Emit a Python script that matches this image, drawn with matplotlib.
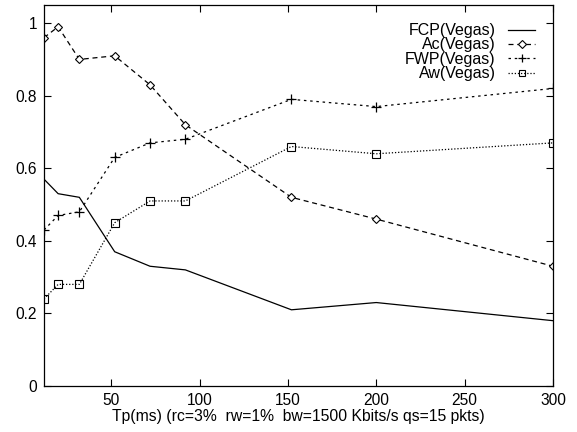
import matplotlib
matplotlib.use("Agg")
import matplotlib.pyplot as plt

plt.rcParams['font.family'] = ['Liberation Sans', 'DejaVu Sans']

# Tp values (ms)
tp = [12, 20, 32, 52, 72, 92, 152, 200, 300]

fcp = [0.57, 0.53, 0.52, 0.37, 0.33, 0.32, 0.21, 0.23, 0.18]
ac = [0.96, 0.99, 0.90, 0.91, 0.83, 0.72, 0.52, 0.46, 0.33]
fwp = [0.43, 0.47, 0.48, 0.63, 0.67, 0.68, 0.79, 0.77, 0.82]
aw = [0.24, 0.28, 0.28, 0.45, 0.51, 0.51, 0.66, 0.64, 0.67]

xticks = [50, 100, 150, 200, 250, 300]
yticks = [0, 0.2, 0.4, 0.6, 0.8, 1]
ytick_labels = ['0', '0.2', '0.4', '0.6', '0.8', '1']

fig = plt.figure(figsize=(5.77, 4.32), dpi=100)
ax = fig.add_axes([44 / 577, 46 / 432, 509 / 577, 381 / 432])

lw = 0.9
ax.plot(tp, fcp, color='black', lw=lw, label='FCP(Vegas)')
ax.plot(tp, ac, color='black', lw=lw, dashes=(4, 3), marker='D', ms=4.5,
        mfc='white', mew=0.8, label='Ac(Vegas)')
ax.plot(tp, fwp, color='black', lw=lw, dashes=(2, 3), marker='+', ms=7,
        mew=0.9, label='FWP(Vegas)')
ax.plot(tp, aw, color='black', lw=lw, dashes=(1, 1.5), marker='s', ms=6,
        mfc='none', mew=0.8, label='Aw(Vegas)')

ax.set_xlim(12, 300)
ax.set_ylim(0, 1.05)
ax.set_xticks(xticks)
ax.set_yticks(yticks)
ax.set_yticklabels(ytick_labels)
ax.tick_params(direction='in', top=True, right=True, length=5, width=0.8,
               labelsize=11.2, pad=5)
for s in ax.spines.values():
    s.set_linewidth(0.9)

ax.set_xlabel('Tp(ms) (rc=3%  rw=1%  bw=1500 Kbits/s qs=15 pkts)',
              fontsize=11.3, labelpad=1)

leg = ax.legend(loc='upper right', frameon=False, markerfirst=False,
                fontsize=11.5, handlelength=1.75, handletextpad=0.75,
                labelspacing=-0.04, borderpad=0.3, borderaxespad=0.0,
                bbox_to_anchor=(0.975, 0.965), markerscale=0.8)
for t in leg.get_texts():
    t.set_ha('right')

fig.savefig('out.png', dpi=100)
